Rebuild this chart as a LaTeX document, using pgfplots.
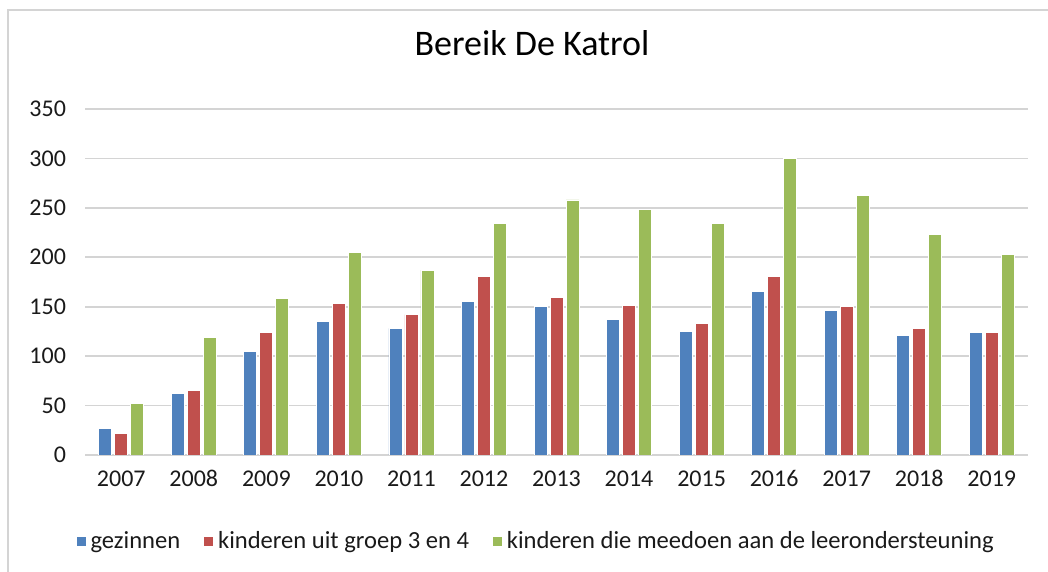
\documentclass[border=0pt]{standalone}
\usepackage{fontspec}
\setmainfont{Carlito}
\usepackage{pgfplots}
\pgfplotsset{compat=1.18}
\definecolor{gezblue}{HTML}{4F81BD}
\definecolor{kindred}{HTML}{C0504D}
\definecolor{leergreen}{HTML}{9BBB59}
\definecolor{gridgray}{HTML}{D4D4D4}
\definecolor{txt}{HTML}{1A1A1A}

\begin{document}
\begin{tikzpicture}
% canvas 1048 x 572 px at 0.5pt per px
\useasboundingbox (0,0) rectangle (524pt,286pt);
\draw[gridgray, line width=0.6pt] (4pt,0) -- (4pt,281pt) -- (524pt,281pt);
\begin{axis}[
  at={(42.5pt,58.5pt)}, anchor=south west,
  scale only axis,
  width=471.5pt, height=173pt,
  ybar=1.5pt, bar width=6.5pt,
  xmin=-0.5, xmax=12.5,
  ymin=0, ymax=350,
  xtick={0,...,12},
  xticklabels={2007,2008,2009,2010,2011,2012,2013,2014,2015,2016,2017,2018,2019},
  ytick={0,50,...,350},
  axis line style={draw=none},
  axis x line*=bottom,
  x axis line style={draw=gridgray, line width=0.9pt},
  y axis line style={draw=none},
  major tick length=0pt,
  ymajorgrids,
  major grid style={draw=gridgray, line width=0.9pt},
  ticklabel style={font=\fontsize{12}{14}\selectfont, color=txt},
  /pgf/number format/assume math mode=true,
  yticklabel style={xshift=-6pt},
  xticklabel style={yshift=-4pt, text height=8pt, text depth=0pt},
  title={Bereik De Katrol},
  title style={at={(0.474,1)}, anchor=center, yshift=27pt, font=\fontsize{18}{20}\selectfont, color=black},
  legend style={at={(0.479,-0.249)}, anchor=center, draw=none, fill=none,
    font=\fontsize{12.3}{14}\selectfont, text=txt, legend columns=3,
    /tikz/every even column/.append style={column sep=9.5pt}},
  legend image code/.code={\fill[#1] (0pt,-2.5pt) rectangle (5pt,2.5pt);},
  every axis plot/.append style={draw=white, line width=0.4pt},
]
\addplot[fill=gezblue] coordinates {(0,27)(1,62)(2,105)(3,135)(4,128)(5,155)(6,150)(7,137)(8,125)(9,165)(10,146)(11,121)(12,124)};
\addplot[fill=kindred] coordinates {(0,22)(1,65)(2,124)(3,153)(4,142)(5,181)(6,159)(7,151)(8,133)(9,181)(10,150)(11,128)(12,124)};
\addplot[fill=leergreen] coordinates {(0,52)(1,119)(2,158)(3,205)(4,187)(5,234)(6,258)(7,248)(8,234)(9,300)(10,263)(11,223)(12,203)};
\legend{gezinnen, kinderen uit groep 3 en 4, kinderen die meedoen aan de leerondersteuning}
\end{axis}
\end{tikzpicture}
\end{document}
